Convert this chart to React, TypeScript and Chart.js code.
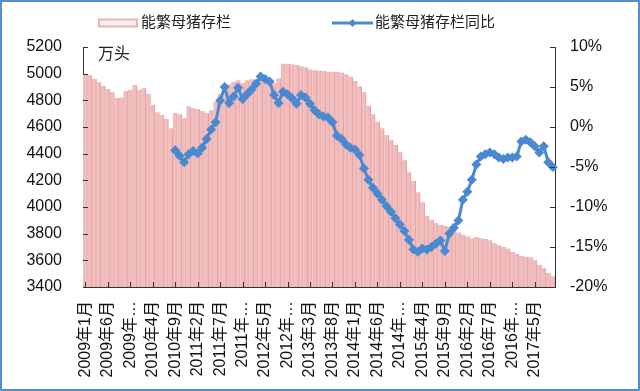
import React, { useEffect, useRef } from 'react';
import { Chart, registerables } from 'chart.js';

Chart.register(...registerables);

// Categories: monthly, 2009-01 .. 2017-09
const startYear = 2009;
const monthCount = 105;
const categories: string[] = [];
for (let k = 0; k < monthCount; k++) {
  const y = startYear + Math.floor(k / 12);
  const m = (k % 12) + 1;
  categories.push(`${y}年${m}月`);
}

// 能繁母猪存栏 (万头)
const sowStock: number[] = [
  5000, 4988, 4962, 4935, 4910, 4885, 4860, 4818, 4822, 4870, 4880, 4915,
  4880, 4892, 4850, 4765, 4710, 4690, 4660, 4590, 4705, 4695, 4665, 4755,
  4740, 4735, 4720, 4705, 4725, 4790, 4850, 4890, 4920, 4940, 4950, 4930,
  4950, 4958, 4955, 4945, 4942, 4940, 4932, 4965, 5076, 5075, 5070, 5065,
  5055, 5048, 5032, 5026, 5024, 5020, 5015, 5014, 5014, 5008, 4995, 4978,
  4945, 4905, 4860, 4760, 4695, 4640, 4590, 4540, 4505, 4465, 4410, 4350,
  4260, 4195, 4110, 4035, 3935, 3905, 3880, 3865, 3858, 3850, 3828, 3808,
  3792, 3780, 3766, 3775, 3765, 3762, 3750, 3728, 3712, 3700, 3688, 3665,
  3650, 3632, 3626, 3624, 3600, 3565, 3540, 3505, 3480,
];

// 能繁母猪存栏同比 (%), starts 2010-09
const sowYoY: (number | null)[] = [
  null, null, null, null, null, null, null, null, null, null, null, null,
  null, null, null, null, null, null, null, null,
  -2.9, -3.6, -4.4, -3.4, -3.0, -3.3, -2.6, -1.5, -0.3, 0.6, 3.3, 5.0,
  3.0, 3.8, 4.9, 3.5, 4.1, 4.7, 5.4, 6.3, 6.0, 5.7, 4.0, 3.0,
  4.4, 4.1, 3.6, 2.9, 4.0, 3.7, 2.9, 2.1, 1.6, 1.3, 1.2, 0.6,
  -1.1, -1.5, -2.2, -2.6, -2.8, -3.5, -5.2, -6.6, -7.6, -8.3, -9.1, -9.9,
  -10.6, -11.4, -12.2, -13.0, -14.1, -15.3, -15.6, -15.2, -15.3, -15.0, -14.6, -14.2,
  -15.5, -13.3, -12.6, -11.7, -9.1, -8.1, -6.6, -4.7, -3.7, -3.4, -3.2, -3.4,
  -3.8, -4.0, -3.8, -3.8, -3.7, -1.8, -1.6, -1.9, -2.4, -3.2, -2.4, -4.4, -5.0,
];

const barLabel = '能繁母猪存栏';
const lineLabel = '能繁母猪存栏同比';
const unitLabel = '万头';

const BAR_FILL = '#f0bcbc';
const BAR_EDGE = '#e2a0a0';
const LINE_COLOR = '#4a88d2';
const FONT = "'Liberation Sans', 'Noto Sans CJK SC', sans-serif";

const decorPlugin = {
  id: 'decor',
  afterDraw(chart: any) {
    const { ctx, chartArea: ca, scales } = chart;
    const yl = scales.y;
    const yr = scales.y1;
    const xs = scales.x;
    ctx.save();
    ctx.strokeStyle = '#333';
    ctx.lineWidth = 1;
    ctx.beginPath();
    yl.ticks.forEach((_t: any, i: number) => {
      const py = Math.round(yl.getPixelForTick(i)) + 0.5;
      ctx.moveTo(ca.left, py);
      ctx.lineTo(ca.left + 5, py);
    });
    yr.ticks.forEach((_t: any, i: number) => {
      const py = Math.round(yr.getPixelForTick(i)) + 0.5;
      ctx.moveTo(ca.right - 5, py);
      ctx.lineTo(ca.right, py);
    });
    for (let i = 0; i < categories.length; i += 5) {
      const px = Math.round(xs.getPixelForValue(i)) + 0.5;
      ctx.moveTo(px, ca.bottom);
      ctx.lineTo(px, ca.bottom - 5);
    }
    ctx.stroke();

    // unit label
    ctx.fillStyle = '#222';
    ctx.textBaseline = 'middle';
    ctx.textAlign = 'left';
    ctx.font = `16px ${FONT}`;
    ctx.fillText(unitLabel, ca.left + 15, ca.top + 8);

    // legend
    ctx.font = `15px ${FONT}`;
    const ly = 21;
    ctx.fillStyle = '#fbeeee';
    ctx.fillRect(97, ly - 3.5, 38, 7);
    ctx.strokeStyle = '#e8b4b4';
    ctx.lineWidth = 2;
    ctx.strokeRect(97, ly - 3.5, 38, 7);
    ctx.fillStyle = '#222';
    ctx.fillText(barLabel, 139, ly);

    ctx.strokeStyle = LINE_COLOR;
    ctx.lineWidth = 3;
    ctx.beginPath();
    ctx.moveTo(330, ly);
    ctx.lineTo(371, ly);
    ctx.stroke();
    ctx.fillStyle = LINE_COLOR;
    ctx.beginPath();
    ctx.moveTo(350.5, ly - 4);
    ctx.lineTo(354.5, ly);
    ctx.lineTo(350.5, ly + 4);
    ctx.lineTo(346.5, ly);
    ctx.closePath();
    ctx.fill();
    ctx.fillStyle = '#222';
    ctx.fillText(lineLabel, 373, ly);
    ctx.restore();
  },
};

export default function App() {
  const ref = useRef<HTMLCanvasElement | null>(null);

  useEffect(() => {
    document.body.style.margin = '0';
    const canvas = ref.current;
    if (!canvas) return;
    const chart = new Chart(canvas, {
      type: 'bar',
      data: {
        labels: categories,
        datasets: [
          {
            type: 'line',
            label: lineLabel,
            data: sowYoY,
            yAxisID: 'y1',
            borderColor: LINE_COLOR,
            backgroundColor: LINE_COLOR,
            borderWidth: 3,
            pointStyle: 'rectRot',
            pointRadius: 5,
            pointBorderWidth: 0,
            pointBackgroundColor: LINE_COLOR,
            spanGaps: false,
            order: 1,
          } as any,
          {
            type: 'bar',
            label: barLabel,
            data: sowStock,
            yAxisID: 'y',
            backgroundColor: BAR_FILL,
            borderColor: BAR_EDGE,
            borderWidth: { top: 0, left: 0, bottom: 0, right: 1 },
            borderSkipped: false,
            barPercentage: 1,
            categoryPercentage: 1,
            order: 2,
          } as any,
        ],
      },
      options: {
        responsive: false,
        animation: false,
        devicePixelRatio: 1,
        layout: { padding: { top: 45, left: 0, right: 0, bottom: 0 } },
        plugins: {
          legend: { display: false },
          tooltip: { enabled: false },
        },
        scales: {
          x: {
            type: 'category',
            offset: true,
            grid: { display: true, drawOnChartArea: false, drawTicks: false },
            border: { display: true, color: '#333', width: 1 },
            ticks: {
              autoSkip: false,
              maxRotation: 90,
              minRotation: 90,
              padding: 14,
              color: '#111',
              font: { size: 16, family: FONT },
              callback: (_v: any, i: number) => {
                if (i % 5 !== 0) return null;
                const lab = categories[i];
                const mm = lab.split('年')[1];
                if (mm.length > 2) return lab.split('年')[0] + '年…';
                return lab;
              },
            },
            afterFit: (s: any) => { s.height = 102; },
          },
          y: {
            position: 'left',
            min: 3400,
            max: 5200,
            grid: { display: true, drawOnChartArea: false, drawTicks: false },
            border: { display: true, color: '#333', width: 1 },
            ticks: {
              stepSize: 200,
              padding: 21,
              color: '#111',
              font: { size: 16, family: FONT },
              callback: (v: any) => String(v),
            },
            afterFit: (s: any) => { s.width = 81; },
          },
          y1: {
            position: 'right',
            min: -20,
            max: 10,
            grid: { display: true, drawOnChartArea: false, drawTicks: false },
            border: { display: true, color: '#333', width: 1 },
            ticks: {
              stepSize: 5,
              padding: 15,
              color: '#111',
              font: { size: 16, family: FONT },
              callback: (v: any) => `${v}%`,
            },
            afterFit: (s: any) => { s.width = 83; },
          },
        },
      } as any,
      plugins: [decorPlugin],
    });
    return () => chart.destroy();
  }, []);

  return (
    <div
      style={{
        width: 640,
        height: 391,
        boxSizing: 'border-box',
        border: '2px solid #4f8fcb',
        background: '#fff',
        overflow: 'hidden',
      }}
    >
      <canvas ref={ref} width={636} height={387} style={{ display: 'block' }} />
    </div>
  );
}
